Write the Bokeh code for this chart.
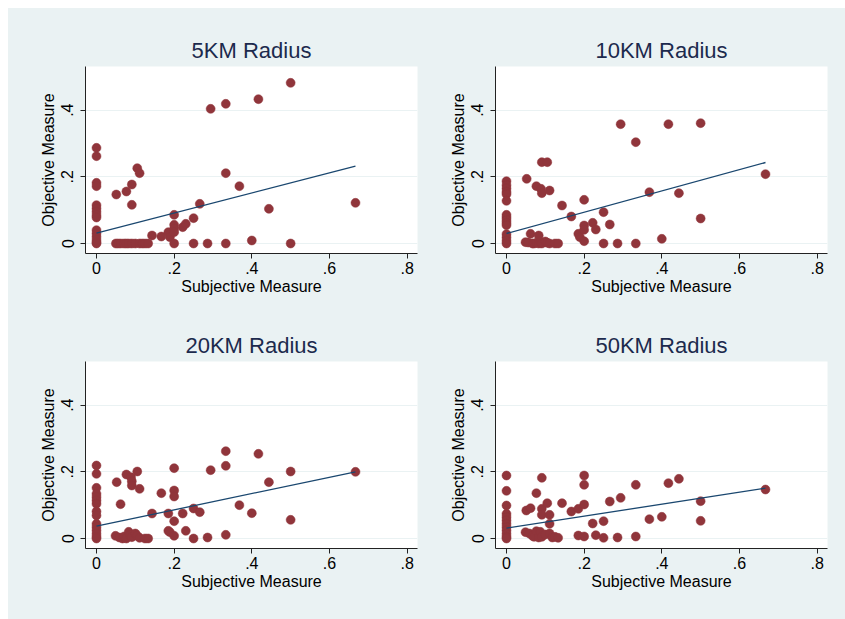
from bokeh.plotting import figure
from bokeh.layouts import gridplot, column, row
from bokeh.models import Range1d, FixedTicker, Spacer
from bokeh.embed import file_html
from bokeh.resources import INLINE

# ---------------- data ----------------
panel_titles = ["5KM Radius", "10KM Radius", "20KM Radius", "50KM Radius"]
x_ticks = [0, 0.2, 0.4, 0.6, 0.8]
x_tick_labels = ["0", ".2", ".4", ".6", ".8"]
y_ticks = [0, 0.2, 0.4]
y_tick_labels = ["0", ".2", ".4"]
x_title = "Subjective Measure"
y_title = "Objective Measure"

r5_x = [0, 0, 0, 0, 0, 0, 0, 0, 0, 0, 0, 0, 0, 0, 0,
        0.050, 0.056, 0.0625, 0.071, 0.077, 0.083, 0.091, 0.100, 0.111, 0.118, 0.125, 0.133,
        0.051, 0.077, 0.091, 0.091, 0.105, 0.111, 0.143, 0.167, 0.185, 0.189,
        0.200, 0.200, 0.200, 0.200, 0.200, 0.222, 0.230, 0.250, 0.250, 0.266,
        0.286, 0.294, 0.333, 0.333, 0.333, 0.368, 0.400, 0.417, 0.444, 0.500, 0.500, 0.667]
r5_y = [0.287, 0.262, 0.182, 0.172, 0.115, 0.105, 0.095, 0.085, 0.078, 0.040, 0.030, 0.020, 0.010, 0.003, 0.0,
        0.0, 0.0, 0.0, 0.0, 0.0, 0.0, 0.0, 0.0, 0.0, 0.0, 0.0, 0.0,
        0.147, 0.156, 0.177, 0.116, 0.226, 0.211, 0.024, 0.021, 0.034, 0.019,
        0.086, 0.056, 0.044, 0.034, 0.0, 0.049, 0.059, 0.076, 0.0, 0.119,
        0.0, 0.404, 0.419, 0.211, 0.0, 0.172, 0.009, 0.433, 0.104, 0.482, 0.0, 0.122]
r5_fit_x = [0.0, 0.667]
r5_fit_y = [0.031, 0.232]

r10_x = [0, 0, 0, 0, 0, 0, 0, 0, 0, 0, 0, 0, 0, 0, 0,
         0.049, 0.056, 0.067, 0.071, 0.077, 0.083, 0.087, 0.091, 0.100, 0.105, 0.111, 0.125, 0.133,
         0.052, 0.062, 0.077, 0.083, 0.091, 0.105, 0.089, 0.091, 0.111, 0.143, 0.167, 0.185, 0.189,
         0.200, 0.200, 0.200, 0.200, 0.222, 0.230, 0.250, 0.250, 0.266, 0.286, 0.294,
         0.333, 0.333, 0.368, 0.400, 0.417, 0.444, 0.500, 0.500, 0.667]
r10_y = [0.187, 0.175, 0.165, 0.155, 0.148, 0.128, 0.086, 0.078, 0.070, 0.062, 0.055, 0.028, 0.018, 0.008, 0.0,
         0.004, 0.003, 0.0, 0.0, 0.002, 0.0, 0.005, 0.0, 0.006, 0.002, 0.0, 0.0, 0.0,
         0.194, 0.029, 0.172, 0.024, 0.244, 0.244, 0.164, 0.151, 0.159, 0.114, 0.081, 0.029, 0.019,
         0.131, 0.054, 0.041, 0.007, 0.062, 0.042, 0.094, 0.0, 0.057, 0.0, 0.358,
         0.304, 0.0, 0.154, 0.014, 0.358, 0.151, 0.361, 0.075, 0.208]
r10_fit_x = [0.0, 0.667]
r10_fit_y = [0.030, 0.243]

r20_x = [0, 0, 0, 0, 0, 0, 0, 0, 0, 0, 0, 0, 0, 0, 0,
         0.049, 0.059, 0.067, 0.071, 0.077, 0.083, 0.087, 0.091, 0.100, 0.105, 0.111, 0.125, 0.133,
         0.052, 0.062, 0.077, 0.089, 0.091, 0.091, 0.105, 0.111, 0.143, 0.167, 0.185, 0.185, 0.189,
         0.200, 0.200, 0.200, 0.200, 0.200, 0.222, 0.230, 0.250, 0.250, 0.266, 0.286, 0.294,
         0.333, 0.333, 0.333, 0.368, 0.400, 0.417, 0.444, 0.500, 0.500, 0.667]
r20_y = [0.219, 0.194, 0.152, 0.134, 0.124, 0.114, 0.104, 0.081, 0.069, 0.044, 0.034, 0.024, 0.014, 0.005, 0.0,
         0.008, 0.003, 0.0, 0.006, 0.0, 0.020, 0.010, 0.004, 0.015, 0.008, 0.002, 0.0, 0.0,
         0.169, 0.103, 0.192, 0.184, 0.172, 0.159, 0.201, 0.149, 0.075, 0.136, 0.075, 0.023, 0.019,
         0.211, 0.144, 0.126, 0.052, 0.008, 0.075, 0.023, 0.090, 0.0, 0.079, 0.003, 0.205,
         0.262, 0.218, 0.011, 0.100, 0.076, 0.254, 0.169, 0.201, 0.056, 0.200]
r20_fit_x = [0.0, 0.667]
r20_fit_y = [0.037, 0.200]

r50_x = [0, 0, 0, 0, 0, 0, 0, 0, 0, 0, 0, 0,
         0.049, 0.059, 0.067, 0.071, 0.077, 0.083, 0.087, 0.091, 0.100, 0.111, 0.118, 0.125, 0.133,
         0.051, 0.062, 0.077, 0.091, 0.091, 0.091, 0.105, 0.111, 0.111, 0.143, 0.167, 0.185,
         0.200, 0.200, 0.200, 0.185, 0.200, 0.222, 0.230, 0.250, 0.250, 0.266, 0.286, 0.294,
         0.333, 0.333, 0.368, 0.400, 0.417, 0.444, 0.500, 0.500, 0.667]
r50_y = [0.189, 0.143, 0.099, 0.074, 0.064, 0.054, 0.044, 0.034, 0.024, 0.014, 0.005, 0.0,
         0.019, 0.015, 0.008, 0.005, 0.022, 0.003, 0.020, 0.005, 0.012, 0.015, 0.003, 0.005, 0.002,
         0.084, 0.091, 0.136, 0.182, 0.089, 0.071, 0.106, 0.071, 0.044, 0.106, 0.081, 0.089,
         0.189, 0.161, 0.102, 0.009, 0.006, 0.045, 0.010, 0.052, 0.002, 0.111, 0.003, 0.122,
         0.161, 0.006, 0.058, 0.065, 0.166, 0.179, 0.112, 0.053, 0.147]
r50_fit_x = [0.0, 0.667]
r50_fit_y = [0.031, 0.151]

# ---------------- style ----------------
BG = "#EAF2F3"
MARKER = "#90353B"
LINE = "#1A476F"
TITLE_C = "#1C2A4D"
FONT = "Liberation Sans"


def make_panel(title, xs, ys, fx, fy, width, height, border_right, border_bottom):
    p = figure(width=width, height=height, output_backend="svg", toolbar_location=None,
               x_range=Range1d(-0.0283, 0.8267), y_range=Range1d(-0.030, 0.531),
               min_border_left=77, min_border_right=border_right,
               min_border_top=58, min_border_bottom=border_bottom,
               title=title)
    p.border_fill_color = BG
    p.background_fill_color = "white"
    p.outline_line_color = None

    p.title.align = "center"
    p.title.text_font = FONT
    p.title.text_font_size = "22px"
    p.title.text_font_style = "normal"
    p.title.text_color = TITLE_C
    p.title.standoff = 7

    p.xgrid.visible = False
    p.ygrid.ticker = FixedTicker(ticks=y_ticks)
    p.ygrid.grid_line_color = BG
    p.ygrid.grid_line_width = 1.2

    for ax in (p.xaxis[0], p.yaxis[0]):
        ax.axis_line_color = "#222222"
        ax.axis_line_width = 1
        ax.major_tick_line_color = "#222222"
        ax.major_tick_in = 0
        ax.major_tick_out = 5
        ax.minor_tick_line_color = None
        ax.major_label_text_font = FONT
        ax.major_label_text_font_size = "16px"
        ax.major_label_text_color = "black"
        ax.axis_label_text_font = FONT
        ax.axis_label_text_font_size = "16px"
        ax.axis_label_text_font_style = "normal"
        ax.axis_label_text_color = "black"

    p.xaxis.ticker = FixedTicker(ticks=x_ticks)
    p.xaxis.major_label_overrides = dict(zip(x_ticks, x_tick_labels))
    p.xaxis.axis_label = x_title
    p.xaxis.major_label_standoff = 3
    p.xaxis.axis_label_standoff = 1

    p.yaxis.ticker = FixedTicker(ticks=y_ticks)
    p.yaxis.major_label_overrides = dict(zip(y_ticks, y_tick_labels))
    p.yaxis.major_label_orientation = "vertical"
    p.yaxis.axis_label = y_title
    p.yaxis.major_label_standoff = 7
    p.yaxis.axis_label_standoff = 2

    p.scatter(xs, ys, size=9, fill_color=MARKER, line_color=MARKER, line_width=0.5)
    p.line(fx, fy, line_color=LINE, line_width=1.3)
    return p


p1 = make_panel(panel_titles[0], r5_x, r5_y, r5_fit_x, r5_fit_y, 410, 295, 1, 50)
p2 = make_panel(panel_titles[1], r10_x, r10_y, r10_fit_x, r10_fit_y, 427, 295, 18, 50)
p3 = make_panel(panel_titles[2], r20_x, r20_y, r20_fit_x, r20_fit_y, 410, 316, 1, 71)
p4 = make_panel(panel_titles[3], r50_x, r50_y, r50_fit_x, r50_fit_y, 427, 316, 18, 71)

grid = gridplot([[p1, p2], [p3, p4]], toolbar_location=None)
grid.styles = {"background-color": BG}

page = column(Spacer(height=8, width=845), row(Spacer(width=8, height=611), grid))

open("out.html", "w").write(file_html(page, INLINE))
